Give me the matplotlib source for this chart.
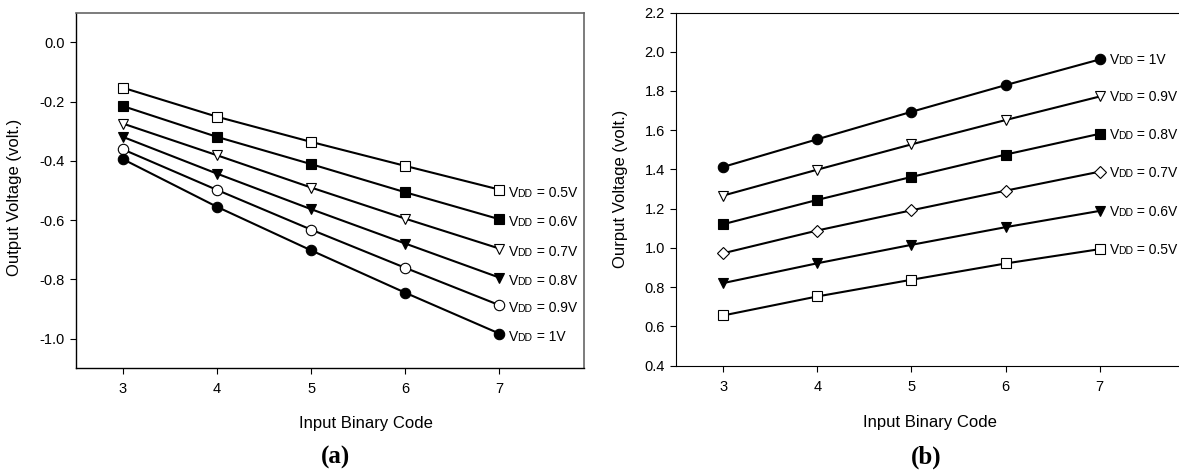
import numpy as np
import matplotlib
matplotlib.use('Agg')
import matplotlib.pyplot as plt

plt.rcParams['font.family'] = ['Liberation Sans', 'DejaVu Sans']
plt.rcParams['axes.unicode_minus'] = False

# input binary code on the x axis
codes = [3, 4, 5, 6, 7]
vdd_names = ['0.5V', '0.6V', '0.7V', '0.8V', '0.9V', '1V']

# panel (a): output voltage, one list per VDD
vout_a_05 = [-0.153, -0.251, -0.336, -0.417, -0.497]
vout_a_06 = [-0.215, -0.319, -0.411, -0.506, -0.597]
vout_a_07 = [-0.274, -0.381, -0.490, -0.595, -0.696]
vout_a_08 = [-0.319, -0.443, -0.563, -0.679, -0.794]
vout_a_09 = [-0.361, -0.498, -0.632, -0.761, -0.887]
vout_a_10 = [-0.394, -0.555, -0.702, -0.845, -0.983]

# panel (b)
vout_b_05 = [0.656, 0.753, 0.838, 0.921, 0.994]
vout_b_06 = [0.821, 0.922, 1.016, 1.106, 1.189]
vout_b_07 = [0.973, 1.089, 1.192, 1.292, 1.389]
vout_b_08 = [1.121, 1.245, 1.362, 1.476, 1.582]
vout_b_09 = [1.267, 1.399, 1.528, 1.652, 1.772]
vout_b_10 = [1.413, 1.554, 1.694, 1.830, 1.961]

yticks_a = [-1.0, -0.8, -0.6, -0.4, -0.2, 0.0]
yticks_b = [0.4, 0.6, 0.8, 1.0, 1.2, 1.4, 1.6, 1.8, 2.0, 2.2]

# marker style per VDD: (marker, filled, size)
style_a = {'0.5V': ('s', False, 6.5), '0.6V': ('s', True, 6.5),
           '0.7V': ('v', False, 7.5), '0.8V': ('v', True, 7.5),
           '0.9V': ('o', False, 7.5), '1V': ('o', True, 7.5)}
style_b = {'0.5V': ('s', False, 6.5), '0.6V': ('v', True, 7.5),
           '0.7V': ('D', False, 6), '0.8V': ('s', True, 6.5),
           '0.9V': ('v', False, 7.5), '1V': ('o', True, 7.5)}


def vdd_label(ax, x, y, name, dy):
    t1 = ax.annotate('V', xy=(x, y), xycoords='data', xytext=(7, dy),
                     textcoords='offset points', fontsize=10, va='baseline')
    t2 = ax.annotate('DD', xy=(1, y), xycoords=(t1, 'data'), xytext=(-0.6, dy),
                     textcoords='offset points', fontsize=7.5, va='baseline')
    ax.annotate(' = ' + name, xy=(1, y), xycoords=(t2, 'data'), xytext=(0, dy),
                textcoords='offset points', fontsize=10, va='baseline')


def draw_panel(ax, series, styles, dy):
    for name, vals in zip(vdd_names, series):
        m, filled, ms = styles[name]
        ax.plot(codes, vals, color='black', lw=1.5, marker=m, ms=ms,
                mfc='black' if filled else 'white', mec='black', mew=0.8)
        vdd_label(ax, codes[-1], vals[-1], name, dy)
    ax.set_xlim(2.5, 7.9)
    ax.set_xticks(codes)
    ax.tick_params(direction='out', length=4, width=0.8, labelsize=10.5)
    ax.tick_params(axis='x', pad=6)
    ax.tick_params(axis='y', pad=4)
    ax.set_xlabel('Input Binary Code', fontsize=12)


fig = plt.figure(figsize=(11.79, 4.72), dpi=100)

ax1 = fig.add_axes([0.0642, 0.2197, 0.4313, 0.7534])
draw_panel(ax1, [vout_a_05, vout_a_06, vout_a_07, vout_a_08, vout_a_09, vout_a_10],
           style_a, -5)
ax1.set_ylim(-1.1, 0.1)
ax1.set_yticks(yticks_a)
ax1.set_yticklabels(['%.1f' % v for v in yticks_a])
ax1.set_ylabel('Output Voltage (volt.)', fontsize=12)
ax1.yaxis.set_label_coords(-0.105, 0.48)
ax1.xaxis.set_label_coords(0.57, -0.135)
for s in ['top', 'right']:
    ax1.spines[s].set_color('#666666')
    ax1.spines[s].set_linewidth(1.2)
for s in ['left', 'bottom']:
    ax1.spines[s].set_linewidth(1.0)

ax2 = fig.add_axes([0.5734, 0.2252, 0.4313, 0.7483])
draw_panel(ax2, [vout_b_05, vout_b_06, vout_b_07, vout_b_08, vout_b_09, vout_b_10],
           style_b, -3.5)
ax2.set_ylim(0.4, 2.2)
ax2.set_yticks(yticks_b)
ax2.set_yticklabels(['%.1f' % v for v in yticks_b])
ax2.set_ylabel('Ourput Voltage (volt.)', fontsize=12)
ax2.yaxis.set_label_coords(-0.095, 0.5)
ax2.xaxis.set_label_coords(0.5, -0.14)

fig.text(335 / 1179, 1 - 457 / 472, '(a)', fontsize=18, fontweight='bold',
         family='Liberation Serif', ha='center', va='center')
fig.text(926 / 1179, 1 - 457 / 472, '(b)', fontsize=18, fontweight='bold',
         family='Liberation Serif', ha='center', va='center')

fig.savefig('out.png', dpi=100)
